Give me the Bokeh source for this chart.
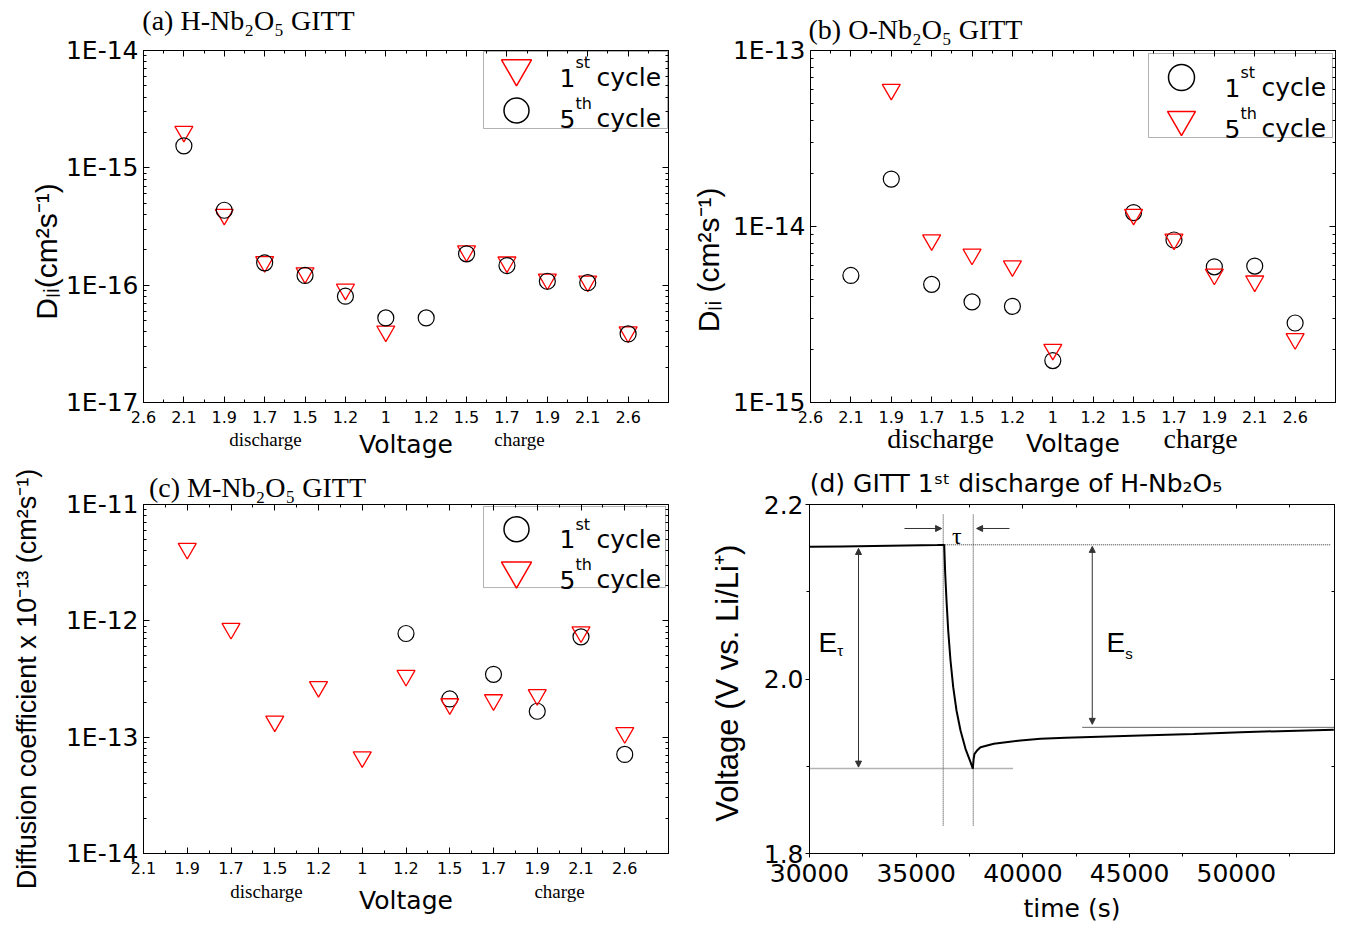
import math
import json
from bokeh.plotting import figure
from bokeh.models import (Range1d, FixedTicker, LinearAxis, LogAxis, CustomJSTickFormatter,
                          Label, BoxAnnotation, Arrow, NormalHead, NumeralTickFormatter)
from bokeh.layouts import column, row
from bokeh.embed import file_html
from bokeh.resources import INLINE

nan = float("nan")
NB = "\u00a0"

# ---------------- data ----------------
volt_ticks_ab = ["2.6", "2.1", "1.9", "1.7", "1.5", "1.2", "1", "1.2", "1.5", "1.7", "1.9", "2.1", "2.6"]
volt_ticks_c = ["2.1", "1.9", "1.7", "1.5", "1.2", "1", "1.2", "1.5", "1.7", "1.9", "2.1", "2.6"]

# (a) H-Nb2O5
h_cycle1 = [nan, 2.04e-15, 4.0e-16, 1.58e-16, 1.27e-16, 9.2e-17, 4.05e-17, nan, 1.95e-16, 1.57e-16, 1.12e-16, 1.08e-16, 3.98e-17]
h_cycle5 = [nan, 1.54e-15, 4.35e-16, 1.55e-16, 1.21e-16, 8.05e-17, 5.26e-17, 5.26e-17, 1.85e-16, 1.47e-16, 1.08e-16, 1.05e-16, 3.84e-17]
# (b) O-Nb2O5
o_cycle1 = [nan, 5.27e-15, 1.86e-14, 4.69e-15, 3.73e-15, 3.52e-15, 1.73e-15, nan, 1.20e-14, 8.38e-15, 5.9e-15, 5.96e-15, 2.83e-15]
o_cycle5 = [nan, nan, 6.0e-14, 8.38e-15, 6.95e-15, 5.96e-15, 2.0e-15, nan, 1.17e-14, 8.45e-15, 5.35e-15, 4.89e-15, 2.3e-15]
# (c) M-Nb2O5
m_cycle1 = [nan, nan, nan, nan, nan, nan, 7.78e-13, 2.13e-13, 3.47e-13, 1.67e-13, 7.28e-13, 7.11e-14]
m_cycle5 = [nan, 4.18e-12, 8.57e-13, 1.37e-13, 2.71e-13, 6.75e-14, 3.38e-13, 1.93e-13, 2.09e-13, 2.31e-13, 8.0e-13, 1.09e-13]

# (d) GITT step
d_time = [30000, 31500, 33000, 34500, 36000, 36290, 36312, 36359, 36420, 36499, 36607, 36734, 36888,
          37076, 37310, 37545, 37653, 37690, 37732, 37850, 38013, 38637, 39888, 40825, 42000, 45511,
          48000, 50197, 52000, 54569]
d_volt = [2.1515, 2.152, 2.1525, 2.153, 2.1535, 2.1537, 2.1534, 2.1206, 2.090, 2.0556, 2.0212, 1.9906,
          1.9639, 1.941, 1.920, 1.9047, 1.8971, 1.908, 1.9143, 1.918, 1.9218, 1.9257, 1.9295, 1.9315,
          1.9327, 1.9353, 1.937, 1.939, 1.9402, 1.9418]
tau_times = [36265, 37672]
tau_span = [1.832, 2.189]
v_start = 2.1538
v_end_pulse = 1.8975
v_steady = 1.9446

# ---------------- geometry (page px) ----------------
FR = {
    "a": dict(L=143, R=668, T=50, B=402, x=(0, 13), y=(1e-17, 1e-14), log=True),
    "b": dict(L=810, R=1335, T=50, B=402, x=(0, 13), y=(1e-15, 1e-13), log=True),
    "c": dict(L=143, R=668, T=502, B=855, x=(0, 12), y=(1e-14, 1e-11), log=True),
    "d": dict(L=809, R=1334, T=504, B=853, x=(30000, 54600), y=(1.8, 2.2), log=False),
}


def to_data(f, px, py):
    x0, x1 = f["x"]
    y0, y1 = f["y"]
    x = x0 + (px - f["L"]) / (f["R"] - f["L"]) * (x1 - x0)
    t = (f["B"] - py) / (f["B"] - f["T"])
    if f["log"]:
        ly = math.log10(y0) + t * (math.log10(y1) - math.log10(y0))
        y = 10 ** ly
    else:
        y = y0 + t * (y1 - y0)
    return x, y


WIDTHS = {
    "Liberation Sans": {' ': .278, '(': .333, ')': .333, '-': .333, '.': .278, '/': .278, '+': .584,
                        'D': .722, 'L': .556, 'V': .667, 'E': .667, 'a': .556, 'c': .5, 'e': .556,
                        'f': .278, 'g': .556, 'i': .222, 'l': .222, 'm': .833, 'n': .556, 'o': .556,
                        's': .5, 't': .278, 'u': .556, 'v': .5, 'x': .5, 'y': .5},
    "DejaVu Sans": {' ': .318, '(': .39, ')': .39, '-': .361, '.': .318, 'G': .775, 'I': .295, 'T': .611,
                    'H': .752, 'N': .748, 'O': .787, 'V': .684, 'b': .635, 'd': .635, 'i': .278,
                    's': .521, 'c': .55, 'h': .634, 'a': .613, 'r': .411, 'g': .635, 'e': .615,
                    'o': .612, 'f': .352, 'y': .592, 'l': .278, 't': .392, 'm': .974},
    "Liberation Serif": {' ': .25, '(': .333, ')': .333, '-': .333, 'a': .444, 'b': .5, 'c': .444,
                         'd': .5, 'H': .722, 'N': .722, 'O': .722, 'M': .889, 'G': .722, 'I': .333,
                         'T': .611, 'i': .278, 's': .389, 'h': .5, 'r': .333, 'g': .5, 'e': .444},
}
DIGIT = {"Liberation Sans": .556, "DejaVu Sans": .636, "Liberation Serif": .5}


def tw(s, size, fam):
    tab = WIDTHS[fam]
    return sum((DIGIT[fam] if ch.isdigit() else tab.get(ch, .55)) for ch in s) * size


def rich(p, f, px, py, pieces, fam, align="left", color="black"):
    """Horizontal multi-size text inside the frame (sub/superscripts)."""
    total = sum(tw(t, s, fam) for t, s, _ in pieces)
    pos = -total / 2 if align == "center" else 0.0
    for t, s, sh in pieces:
        stripped = t.lstrip(" ")
        pos += tw(t[:len(t) - len(stripped)], s, fam)
        dx, dy = to_data(f, px + pos, py - sh)
        p.add_layout(Label(x=dx, y=dy, text=stripped, text_font=fam, text_font_size=f"{s}px",
                           text_color=color, text_align="left", text_baseline="alphabetic"))
        pos += tw(stripped, s, fam)


def style(ax, size, standoff, tin, tout, mtin, mtout, fam="DejaVu Sans"):
    ax.major_label_text_font = fam
    ax.major_label_text_font_size = size
    ax.major_label_text_color = "black"
    ax.major_label_standoff = standoff
    ax.major_tick_in = tin
    ax.major_tick_out = tout
    ax.minor_tick_in = mtin
    ax.minor_tick_out = mtout
    ax.axis_line_color = "black"
    ax.major_tick_line_color = "black"
    ax.minor_tick_line_color = "black"
    ax.axis_line_width = 1


def axis_title(ax, text, fam, size, standoff):
    ax.axis_label = text
    ax.axis_label_text_font = fam
    ax.axis_label_text_font_size = size
    ax.axis_label_text_font_style = "normal"
    ax.axis_label_text_color = "black"
    ax.axis_label_standoff = standoff


def bare_axis(p, ticks, code, fam, size, standoff, place):
    """An axis without line or tick marks, used to carry words around the frame."""
    ax = LinearAxis(ticker=FixedTicker(ticks=ticks, minor_ticks=[]))
    ax.formatter = CustomJSTickFormatter(code=code)
    style(ax, size, standoff, 0, 0, 0, 0, fam=fam)
    ax.axis_line_color = None
    ax.major_tick_line_color = None
    ax.minor_tick_line_color = None
    p.add_layout(ax, place)
    return ax


def panel_title(p, xc, text, fam, size, standoff):
    p.title.text = ""
    p.title.visible = False
    bare_axis(p, [xc], "return " + json.dumps(text) + ";", fam, size, standoff, "above")


def make_fig(f, w, h, lb, rb, tb, bb):
    p = figure(width=w, height=h, x_range=Range1d(*f["x"]), y_range=Range1d(*f["y"]),
               y_axis_type="log" if f["log"] else "linear",
               output_backend="svg", toolbar_location=None,
               min_border_left=lb, min_border_right=rb, min_border_top=tb, min_border_bottom=bb)
    p.grid.visible = False
    p.outline_line_color = "black"
    p.outline_line_width = 1
    p.background_fill_color = "white"
    p.border_fill_color = "white"
    return p, p.below[0], p.left[0]


def decade_ticker(lo, hi):
    majors = [10.0 ** e for e in range(lo, hi + 1)]
    minors = [m * 10.0 ** e for e in range(lo, hi) for m in range(2, 10)]
    return FixedTicker(ticks=majors, minor_ticks=minors)


FMT = "return '1E' + Math.round(Math.log10(tick));"
EMPTY = "return '';"


def diff_panel(key, w, h, lb, rb, tb, bb, labels, elo, ehi):
    f = FR[key]
    p, ax_x, ax_y = make_fig(f, w, h, lb, rb, tb, bb)
    n = len(labels)
    ax_x.ticker = FixedTicker(ticks=list(range(n)), minor_ticks=[i + 0.5 for i in range(n)])
    ax_x.major_label_overrides = {i: s for i, s in enumerate(labels)}
    style(ax_x, "16px", 8, 6, 0, 3, 0)
    ax_y.ticker = decade_ticker(elo, ehi)
    ax_y.formatter = CustomJSTickFormatter(code=FMT)
    style(ax_y, "25px", 5, 6, 0, 3, 0)
    top = LinearAxis(ticker=FixedTicker(ticks=list(range(n)), minor_ticks=[i + 0.5 for i in range(n)]))
    top.formatter = CustomJSTickFormatter(code=EMPTY)
    style(top, "0px", 0, 6, 0, 3, 0)
    p.add_layout(top, "above")
    right = LogAxis(ticker=decade_ticker(elo, ehi))
    right.formatter = CustomJSTickFormatter(code=EMPTY)
    style(right, "0px", 0, 6, 0, 3, 0)
    p.add_layout(right, "right")
    return p, f, ax_x, ax_y


WORDS = "return tick < 6 ? 'discharge' : 'charge';"


def draw_legend(p, f, box, items):
    L, T, R, B = box
    x0, yT = to_data(f, L, T)
    x1, yB = to_data(f, R, B)
    p.add_layout(BoxAnnotation(left=x0, right=x1, top=yT, bottom=yB, fill_color="white", fill_alpha=1.0,
                               line_color="black", line_width=1, level="underlay"))
    for kind, my, msize, num, sup, base in items:
        mx, myd = to_data(f, L + 33, my)
        if kind == "tri":
            p.scatter([mx], [myd], marker="inverted_triangle", size=msize, fill_color=None,
                      line_color="red", line_width=1.5)
        else:
            p.scatter([mx], [myd], marker="circle", size=msize, fill_color=None,
                      line_color="black", line_width=1.5)
        rich(p, f, L + 76, base, [(num, 25, 0), (sup, 16, 15)], "DejaVu Sans")
        rich(p, f, L + 113, base, [("cycle", 25, 0)], "DejaVu Sans")


def points(p, ys, kind):
    xs = list(range(len(ys)))
    if kind == "tri":
        p.scatter(xs, ys, marker="inverted_triangle", size=18, fill_color=None, line_color="red", line_width=1.3)
    else:
        p.scatter(xs, ys, marker="circle", size=16, fill_color=None, line_color="black", line_width=1.2)


# ---------------- panel (a) ----------------
pa, fa, ax_xa, ax_ya = diff_panel("a", 676, 465, 143, 8, 50, 63, volt_ticks_ab, -17, -14)
points(pa, h_cycle1, "tri")
points(pa, h_cycle5, "circ")
draw_legend(pa, fa, (483, 51, 667, 128), [("tri", 68, 30, "1", "st", 77), ("circ", 110, 25, "5", "th", 118)])
panel_title(pa, 2.60, "(a) H-Nb\u2082O\u2085 GITT", "Liberation Serif", "28px", 15)
axis_title(ax_ya, "D\u2097\u1d62(cm\u00b2s\u207b\u00b9)" + NB * 6, "Liberation Sans", "30px", 0)
axis_title(ax_xa, "Voltage", "DejaVu Sans", "25px", 4)
bare_axis(pa, [3.02, 9.31], WORDS, "Liberation Serif", "19px", -33, "below")

# ---------------- panel (b) ----------------
pb, fb, ax_xb, ax_yb = diff_panel("b", 676, 465, 134, 17, 50, 63, volt_ticks_ab, -15, -13)
points(pb, o_cycle1, "circ")
points(pb, o_cycle5, "tri")
draw_legend(pb, fb, (1148, 53, 1332, 137), [("circ", 77, 26, "1", "st", 87), ("tri", 119, 28, "5", "th", 128)])
panel_title(pb, 2.60, "(b) O-Nb\u2082O\u2085 GITT", "Liberation Serif", "28px", 6)
axis_title(ax_yb, "D\u2097\u1d62 (cm\u00b2s\u207b\u00b9)" + NB * 8, "Liberation Sans", "30px", 5)
axis_title(ax_xb, "Voltage", "DejaVu Sans", "25px", 3)
bare_axis(pb, [3.22, 9.66], WORDS, "Liberation Serif", "28px", -38, "below")

# ---------------- panel (c) ----------------
pc, fc, ax_xc, ax_yc = diff_panel("c", 676, 465, 143, 8, 37, 75, volt_ticks_c, -14, -11)
points(pc, m_cycle1, "circ")
points(pc, m_cycle5, "tri")
draw_legend(pc, fc, (483, 504, 665, 586), [("circ", 527, 25, "1", "st", 537), ("tri", 569, 30, "5", "th", 578)])
panel_title(pc, 2.606, "(c) M-Nb\u2082O\u2085 GITT", "Liberation Serif", "28px", 2)
axis_title(ax_yc, "Diffusion coefficient x 10\u207b\u00b9\u00b3 (cm\u00b2s\u207b\u00b9)",
           "Liberation Sans", "27px", 21)
axis_title(ax_xc, "Voltage", "DejaVu Sans", "25px", 9)
bare_axis(pc, [2.81, 9.51], WORDS, "Liberation Serif", "19px", -37, "below")

# ---------------- panel (d) ----------------
fd = FR["d"]
pd, ax_xd, ax_yd = make_fig(fd, 676, 465, 133, 18, 39, 77)
ax_xd.ticker = FixedTicker(ticks=[30000, 35000, 40000, 45000, 50000], minor_ticks=[32500, 37500, 42500, 47500, 52500])
ax_xd.formatter = NumeralTickFormatter(format="0")
style(ax_xd, "25px", 6, 0, 4, 0, 3)
ax_yd.ticker = FixedTicker(ticks=[1.8, 2.0, 2.2], minor_ticks=[1.9, 2.1])
ax_yd.formatter = NumeralTickFormatter(format="0.0")
style(ax_yd, "25px", 2, 0, 4, 0, 3)
topd = LinearAxis(ticker=FixedTicker(ticks=[30000, 35000, 40000, 45000, 50000], minor_ticks=[32500, 37500, 42500, 47500, 52500]))
topd.formatter = CustomJSTickFormatter(code=EMPTY)
style(topd, "0px", 0, 4, 0, 3, 0)
pd.add_layout(topd, "above")
rightd = LinearAxis(ticker=FixedTicker(ticks=[1.8, 2.0, 2.2], minor_ticks=[1.9, 2.1]))
rightd.formatter = CustomJSTickFormatter(code=EMPTY)
style(rightd, "0px", 0, 4, 0, 3, 0)
pd.add_layout(rightd, "right")
panel_title(pd, 39676, "(d) GITT 1\u02e2\u1d57 discharge of H-Nb\u2082O\u2085", "DejaVu Sans", "25px", 7)
axis_title(ax_yd, "Voltage (V vs. Li/Li\u207a)" + NB, "Liberation Sans", "31px", 16)
axis_title(ax_xd, "time (s)", "DejaVu Sans", "25px", 9)

pd.segment(x0=tau_times, x1=tau_times, y0=[tau_span[0]] * 2, y1=[tau_span[1]] * 2,
           line_color="#333333", line_width=1, line_dash="1 1")
pd.segment(x0=[tau_times[0]], x1=[54400], y0=[v_start], y1=[v_start],
           line_color="#333333", line_width=1, line_dash="1 1")
pd.segment(x0=[30000], x1=[39560], y0=[v_end_pulse], y1=[v_end_pulse],
           line_color="#666666", line_width=1.6, line_dash="1 1")
pd.segment(x0=[42778], x1=[54600], y0=[v_steady], y1=[v_steady], line_color="#666666", line_width=1)
pd.line(d_time, d_volt, line_color="black", line_width=2)


def arrow(p, x0, y0, x1, y1, both=False):
    kw = dict(x_start=x0, y_start=y0, x_end=x1, y_end=y1, line_color="#333333", line_width=1,
              end=NormalHead(size=6, fill_color="#333333", line_color="#333333", line_width=1))
    if both:
        kw["start"] = NormalHead(size=6, fill_color="#333333", line_color="#333333", line_width=1)
    else:
        kw["start"] = None
    p.add_layout(Arrow(**kw))


arrow(pd, 32296, 2.1496, 32296, 1.899, both=True)
arrow(pd, 43250, 2.152, 43250, 1.948, both=True)
arrow(pd, 34450, 2.1725, 36190, 2.1725)
arrow(pd, 39370, 2.1725, 37830, 2.1725)
rich(pd, fd, 958, 535, [("τ", 24, 0)], "Liberation Serif", align="center")
rich(pd, fd, 818, 642, [("E", 28, 0), ("τ", 15, -8)], "Liberation Sans")
rich(pd, fd, 1106, 642, [("E", 28, 0), ("s", 15, -11)], "Liberation Sans")

layout = column(row(pa, pb), row(pc, pd))
open("out.html", "w").write(file_html(layout, INLINE))
